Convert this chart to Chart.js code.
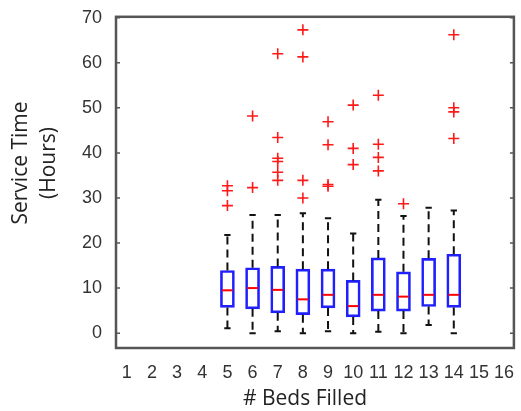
<!DOCTYPE html>
<html>
<head>
<meta charset="utf-8">
<script src="https://cdn.jsdelivr.net/npm/chart.js@4"></script>
<style>
  body { margin: 0; background: #fff; }
</style>
</head>
<body>
<canvas id="grafico" width="521" height="411"></canvas>
<script>
// datos (horas de servicio por camas ocupadas)
const beds = [5, 6, 7, 8, 9, 10, 11, 12, 13, 14];
const q1 = [5.7, 5.4, 4.5, 4.1, 5.6, 3.6, 4.9, 4.9, 5.9, 5.7];
const medians = [9.5, 10.0, 9.6, 7.5, 8.5, 6.0, 8.5, 8.1, 8.5, 8.5];
const q3 = [13.9, 14.5, 14.8, 14.2, 14.2, 11.7, 16.7, 13.6, 16.6, 17.5];
const whiskerLow = [1.1, 0, 0.4, 0, 0.4, 0, 0.3, 0, 1.8, 0];
const whiskerHigh = [21.8, 26.2, 26.2, 26.6, 25.5, 22.1, 29.6, 26.0, 27.8, 27.2];

const outlierBeds = [5, 5, 5, 6, 6, 7, 7, 7, 7, 7, 7, 8, 8, 8, 8, 9, 9, 9, 9, 10, 10, 10, 11, 11, 11, 11, 12, 14, 14, 14, 14];
const outlierHours = [32.7, 31.6, 28.3, 48.2, 32.3, 62.0, 43.4, 38.8, 38.1, 35.7, 33.9, 67.3, 61.3, 33.9, 30.0, 46.9, 41.8, 33.0, 32.6, 50.6, 41.0, 37.4, 52.8, 41.9, 39.0, 36.0, 28.7, 66.2, 50.0, 49.1, 43.2];

const xTicks = [1, 2, 3, 4, 5, 6, 7, 8, 9, 10, 11, 12, 13, 14, 15, 16];
const yTicks = [0, 10, 20, 30, 40, 50, 60, 70];

const tickFont = { family: 'Liberation Sans', size: 18 };
const titleFont = '21px "Open Sans"';

// bigotes, medianas, marco y titulos
const boxExtras = {
  id: 'boxExtras',
  afterDatasetsDraw(chart) {
    const { ctx, chartArea: a, scales: { x, y } } = chart;
    const half = 0.25, cap = 0.125;
    ctx.save();
    beds.forEach((b, i) => {
      const xc = x.getPixelForValue(b);
      // bigotes discontinuos
      ctx.strokeStyle = '#111';
      ctx.lineWidth = 2;
      ctx.setLineDash([8, 5]);
      ctx.beginPath();
      ctx.moveTo(xc, y.getPixelForValue(q3[i]));
      ctx.lineTo(xc, y.getPixelForValue(whiskerHigh[i]));
      ctx.moveTo(xc, y.getPixelForValue(q1[i]));
      ctx.lineTo(xc, y.getPixelForValue(whiskerLow[i]));
      ctx.stroke();
      ctx.setLineDash([]);
      // topes
      ctx.lineWidth = 2;
      ctx.beginPath();
      [whiskerHigh[i], whiskerLow[i]].forEach(v => {
        const yy = y.getPixelForValue(v);
        ctx.moveTo(x.getPixelForValue(b - cap), yy);
        ctx.lineTo(x.getPixelForValue(b + cap), yy);
      });
      ctx.stroke();
      // mediana
      ctx.strokeStyle = '#ff0000';
      ctx.lineWidth = 2;
      ctx.beginPath();
      const ym = y.getPixelForValue(medians[i]);
      ctx.moveTo(x.getPixelForValue(b - half) + 1, ym);
      ctx.lineTo(x.getPixelForValue(b + half) - 1, ym);
      ctx.stroke();
    });
    // marco
    ctx.strokeStyle = '#555';
    ctx.lineWidth = 2.5;
    ctx.strokeRect(a.left, a.top, a.right - a.left, a.bottom - a.top);
    // marcas hacia adentro
    ctx.lineWidth = 1.5;
    ctx.beginPath();
    yTicks.forEach(v => {
      const yy = y.getPixelForValue(v);
      ctx.moveTo(a.left, yy); ctx.lineTo(a.left + 4, yy);
      ctx.moveTo(a.right, yy); ctx.lineTo(a.right - 4, yy);
    });
    ctx.stroke();
    // titulos
    ctx.fillStyle = '#222';
    ctx.font = titleFont;
    ctx.textAlign = 'center';
    ctx.textBaseline = 'middle';
    ctx.fillText('# Beds Filled', 305, 399);
    ctx.translate(35, 163);
    ctx.rotate(-Math.PI / 2);
    ctx.fillText('Service Time', 0, -14);
    ctx.fillText('(Hours)', 0, 14);
    ctx.restore();
  }
};

new Chart(document.getElementById('grafico'), {
  type: 'bar',
  data: {
    datasets: [
      {
        label: 'Caja',
        data: beds.map((b, i) => ({ x: b, y: [q1[i], q3[i]] })),
        backgroundColor: 'rgba(0,0,0,0)',
        borderColor: '#2020ff',
        borderWidth: 2,
        borderSkipped: false,
        barThickness: 14,
        order: 2
      },
      {
        type: 'scatter',
        label: 'Atipicos',
        data: outlierBeds.map((b, i) => ({ x: b, y: outlierHours[i] })),
        pointStyle: 'cross',
        pointRadius: 5.5,
        borderColor: '#ff1a1a',
        borderWidth: 1.6,
        order: 1
      }
    ]
  },
  options: {
    responsive: false,
    animation: false,
    devicePixelRatio: 1,
    layout: { padding: { top: 14, right: 3, left: 0, bottom: 0 } },
    plugins: { legend: { display: false }, tooltip: { enabled: false } },
    scales: {
      x: {
        type: 'linear',
        offset: false,
        min: 0.57,
        max: 16.39,
        afterBuildTicks: s => { s.ticks = xTicks.map(v => ({ value: v })); },
        afterFit: s => { s.height = 63; },
        grid: { display: false, offset: false },
        border: { display: false },
        ticks: { font: tickFont, color: '#333', padding: 6, maxRotation: 0, autoSkip: false }
      },
      y: {
        min: -3.3,
        max: 70.2,
        afterBuildTicks: s => { s.ticks = yTicks.map(v => ({ value: v })); },
        afterFit: s => { s.width = 116; },
        grid: { display: false },
        border: { display: false },
        ticks: { font: tickFont, color: '#333', padding: 6 }
      }
    }
  },
  plugins: [boxExtras]
});
</script>
</body>
</html>
